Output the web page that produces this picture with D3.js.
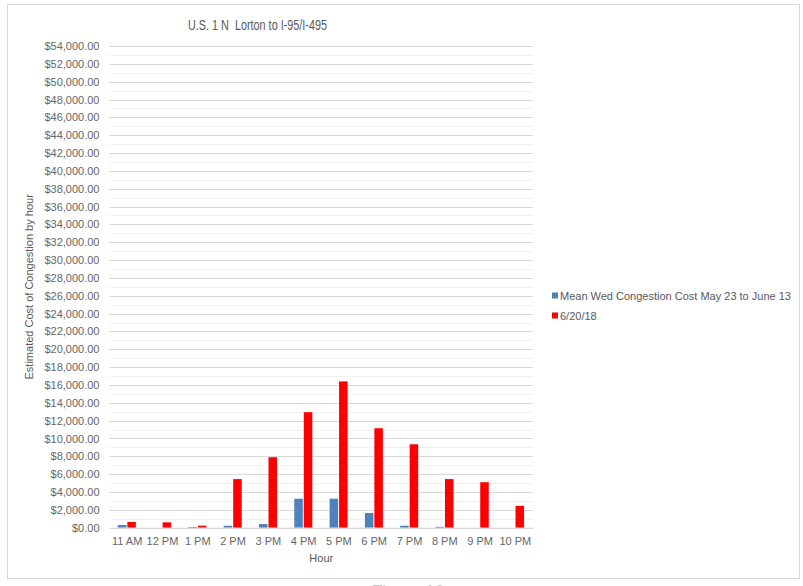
<!DOCTYPE html>
<html>
<head>
<meta charset="utf-8">
<script src="https://cdn.jsdelivr.net/npm/d3@7"></script>
<style>
  html, body { margin: 0; padding: 0; background: #fff; }
  svg { display: block; }
  text { font-family: "Liberation Sans", Arial, sans-serif; fill: #595959; }
</style>
</head>
<body>
<svg id="chart" width="803" height="586"></svg>
<script>
// Hourly congestion cost, U.S. 1 northbound
const hours = ["11 AM", "12 PM", "1 PM", "2 PM", "3 PM", "4 PM", "5 PM", "6 PM", "7 PM", "8 PM", "9 PM", "10 PM"];
const meanWed = [300, 0, 80, 220, 410, 3250, 3250, 1650, 220, 100, 0, 0];
const june20 = [650, 600, 230, 5450, 7900, 12950, 16400, 11150, 9350, 5450, 5100, 2450];
const seriesNames = ["Mean Wed Congestion Cost May 23 to June 13", "6/20/18"];
const seriesColors = ["#4f81bd", "#ff0000"];
const yTicks = d3.range(0, 54001, 2000);
const yGrid = d3.range(0, 54001, 1000);

const svg = d3.select("#chart");
const plotLeft = 109.5, plotRight = 533, plotTop = 46, plotBottom = 527.7;

// chart frame
svg.append("rect")
  .attr("x", 7.5).attr("y", 4.5).attr("width", 792).attr("height", 574)
  .attr("fill", "#fff").attr("stroke", "#d9d9d9");

// title, set in a condensed face
svg.append("text")
  .attr("x", 188).attr("y", 30)
  .attr("textLength", 139).attr("lengthAdjust", "spacingAndGlyphs")
  .style("white-space", "pre")
  .style("font-size", "14.5px")
  .text("U.S. 1 N  Lorton to I-95/I-495");

const y = d3.scaleLinear().domain([0, 54000]).range([plotBottom, plotTop]);
const x = d3.scaleBand().domain(hours).range([plotLeft, plotRight]).padding(0);
const xs = d3.scaleBand().domain([0, 1])
  .range([x.bandwidth() / 2 - 9.3, x.bandwidth() / 2 + 8.7]).paddingInner(0.1);

// gridlines: light every 1,000, darker every 2,000
svg.append("g").selectAll("line").data(yGrid).join("line")
  .attr("x1", plotLeft).attr("x2", plotRight)
  .attr("y1", d => Math.round(y(d)) + 0.5).attr("y2", d => Math.round(y(d)) + 0.5)
  .attr("stroke", d => d % 2000 === 0 ? "#d9d9d9" : "#f0f0f0")
  .attr("stroke-width", 1);

// y axis labels
const yAxis = d3.axisLeft(y).tickValues(yTicks)
  .tickFormat(d => "$" + d3.format(",.2f")(d)).tickSize(0).tickPadding(10);
const gy = svg.append("g").attr("transform", `translate(${plotLeft},0)`).call(yAxis);
gy.select(".domain").remove();
gy.selectAll("text").style("font-size", "11px").style("fill", "#666")
  .style("font-family", "'Liberation Sans', Arial, sans-serif");

// bars
const series = [meanWed, june20];
series.forEach((vals, si) => {
  svg.append("g").selectAll("rect").data(hours).join("rect")
    .attr("x", (h) => x(h) + xs(si))
    .attr("width", xs.bandwidth())
    .attr("y", (h, i) => y(vals[i]))
    .attr("height", (h, i) => y(0) - y(vals[i]))
    .attr("fill", seriesColors[si]);
});

// x axis
const xAxis = d3.axisBottom(x).tickSize(0).tickPadding(10);
const gx = svg.append("g").attr("transform", `translate(0,${plotBottom})`).call(xAxis);
gx.select(".domain").attr("stroke", "#d9d9d9");
gx.selectAll("text").style("font-size", "11px").style("fill", "#666")
  .style("font-family", "'Liberation Sans', Arial, sans-serif");

svg.append("text")
  .attr("x", (plotLeft + plotRight) / 2).attr("y", 562)
  .attr("text-anchor", "middle").style("font-size", "11px")
  .text("Hour");

svg.append("text")
  .attr("transform", `translate(33,${(plotTop + plotBottom) / 2}) rotate(-90)`)
  .attr("text-anchor", "middle").style("font-size", "11px")
  .text("Estimated Cost of Congestion by hour");

// legend
const leg = svg.append("g");
seriesNames.forEach((name, i) => {
  const yy = 296 + i * 20;
  leg.append("rect").attr("x", 552).attr("y", yy - 3.5).attr("width", 6).attr("height", 6)
    .attr("fill", seriesColors[i]);
  leg.append("text").attr("x", 560).attr("y", yy + 4)
    .style("font-size", "11px").text(name);
});

// figure caption below the frame
svg.append("text")
  .attr("x", 408).attr("y", 597).attr("text-anchor", "middle")
  .style("font-size", "17px").style("fill", "#bfbfbf")
  .text("Figure 16");
</script>
</body>
</html>
